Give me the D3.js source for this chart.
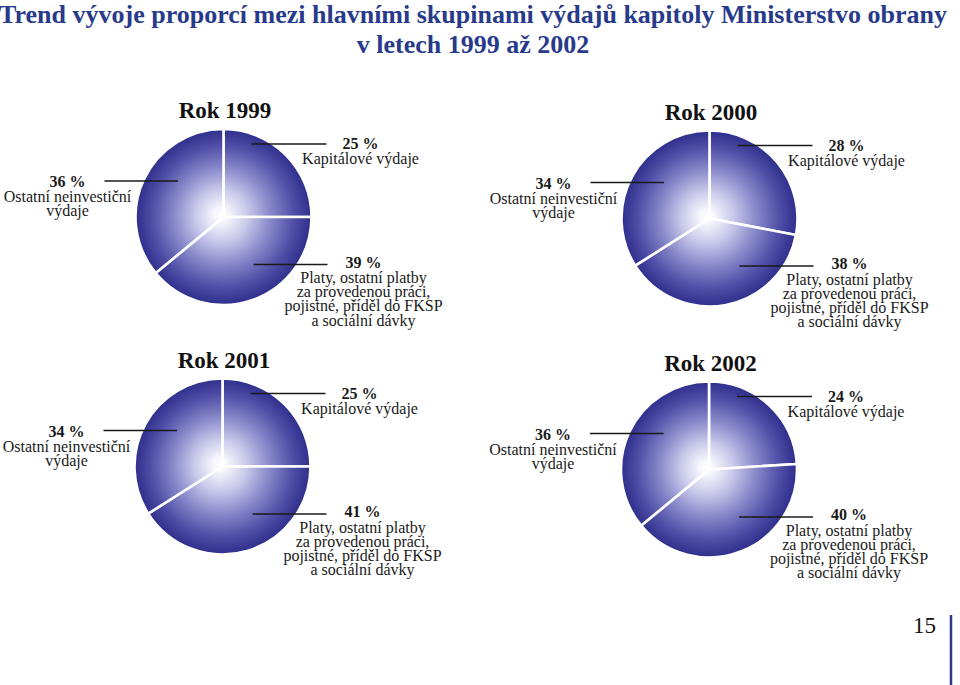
<!DOCTYPE html>
<html>
<head>
<meta charset="utf-8">
<script src="https://cdn.jsdelivr.net/npm/d3@7"></script>
<style>
  html, body { margin: 0; padding: 0; background: #ffffff; }
  svg { display: block; }
</style>
</head>
<body>
<svg id="chart" width="960" height="685"></svg>
<script>
// ---- data ----
const titleLines = ["Trend vývoje proporcí mezi hlavními skupinami výdajů kapitoly Ministerstvo obrany", "v letech 1999 až 2002"];
const years = ["Rok 1999", "Rok 2000", "Rok 2001", "Rok 2002"];
const categories = ["Kapitálové výdaje", "Platy, ostatní platby za provedenou práci, pojistné, příděl do FKSP a sociální dávky", "Ostatní neinvestiční výdaje"];
const categoryLabelLines = [
  ["Kapitálové výdaje"],
  ["Platy, ostatní platby", "za provedenou práci,", "pojistné, příděl do FKSP", "a sociální dávky"],
  ["Ostatní neinvestiční", "výdaje"]
];
const capital = [25, 28, 25, 24];
const salaries = [39, 38, 41, 40];
const otherCurrent = [36, 34, 34, 36];
const pageNumber = "15";

// ---- font ----
const serif = "'Liberation Serif', 'Times New Roman', serif";

// ---- layout ----
const svg = d3.select("#chart");
const titleColor = "#283a8a";
const radius = 88;
const centers = [[223.5, 217], [709.5, 218.5], [222.5, 466.5], [709, 469.5]];

// gradient
const defs = svg.append("defs");
const grad = defs.append("radialGradient")
  .attr("id", "pieGrad")
  .attr("gradientUnits", "userSpaceOnUse")
  .attr("cx", 0).attr("cy", 0).attr("r", radius)
  .attr("fx", -3).attr("fy", -2);
[[0, "#ffffff"], [0.08, "#f6f6fc"], [0.3, "#c8c8ea"], [0.55, "#8888ca"], [0.8, "#5050a8"], [1, "#2e2e8c"]]
  .forEach(([o, c]) => grad.append("stop").attr("offset", o).attr("stop-color", c));

// title
svg.append("g").selectAll("text").data(titleLines).join("text")
  .attr("x", 473)
  .attr("y", (d, i) => 23 + i * 30)
  .attr("text-anchor", "middle")
  .attr("font-family", serif)
  .attr("font-weight", "bold")
  .attr("font-size", 26)
  .attr("fill", titleColor)
  .text(d => d);

const pie = d3.pie().sort(null).value(d => d.value).startAngle(0).endAngle(2 * Math.PI);
const arc = d3.arc().innerRadius(0).outerRadius(radius);

const labelSpec = [
  { line: [28, 103, -73], tx: 137, ty: -68, first: 15 },
  { line: [30, 104, 47.5], tx: 140, ty: 50.5, first: 15.5 },
  { line: [-119, -45.5, -36], tx: -156, ty: -30, first: 15 }
];
const lineStep = 14.2;

years.forEach((yr, i) => {
  const vals = [capital[i], salaries[i], otherCurrent[i]];
  const data = vals.map((v, k) => ({ value: v, cat: k }));
  const g = svg.append("g").attr("transform", `translate(${centers[i][0]},${centers[i][1]})`);

  g.append("text")
    .attr("x", 1.5).attr("y", -99)
    .attr("text-anchor", "middle")
    .attr("font-family", serif)
    .attr("font-weight", "bold")
    .attr("font-size", 23)
    .attr("fill", "#111")
    .text(yr);

  g.selectAll("path.slice").data(pie(data)).join("path")
    .attr("class", "slice")
    .attr("d", arc)
    .attr("fill", "url(#pieGrad)")
    .attr("stroke", "#ffffff")
    .attr("stroke-width", 2.6)
    .attr("stroke-linejoin", "round");

  data.forEach(d => {
    const s = labelSpec[d.cat];
    g.append("line")
      .attr("x1", s.line[0]).attr("x2", s.line[1])
      .attr("y1", s.line[2]).attr("y2", s.line[2])
      .attr("stroke", "#1a1a1a").attr("stroke-width", 1.4);
    const t = g.append("text")
      .attr("text-anchor", "middle")
      .attr("font-family", serif)
      .attr("font-size", 16)
      .attr("fill", "#1a1a1a");
    t.append("tspan")
      .attr("x", s.tx).attr("y", s.ty)
      .attr("font-weight", "bold")
      .text(d.value + " %");
    categoryLabelLines[d.cat].forEach((ln, j) => {
      t.append("tspan")
        .attr("x", s.tx)
        .attr("y", s.ty + s.first + j * lineStep)
        .text(ln);
    });
  });
});

svg.append("text")
  .attr("x", 936).attr("y", 633)
  .attr("text-anchor", "end")
  .attr("font-family", serif)
  .attr("font-size", 23)
  .attr("fill", "#111")
  .text(pageNumber);
svg.append("line")
  .attr("x1", 951).attr("x2", 951)
  .attr("y1", 615).attr("y2", 685)
  .attr("stroke", "#2d3a8c").attr("stroke-width", 2.5);
</script>
</body>
</html>
